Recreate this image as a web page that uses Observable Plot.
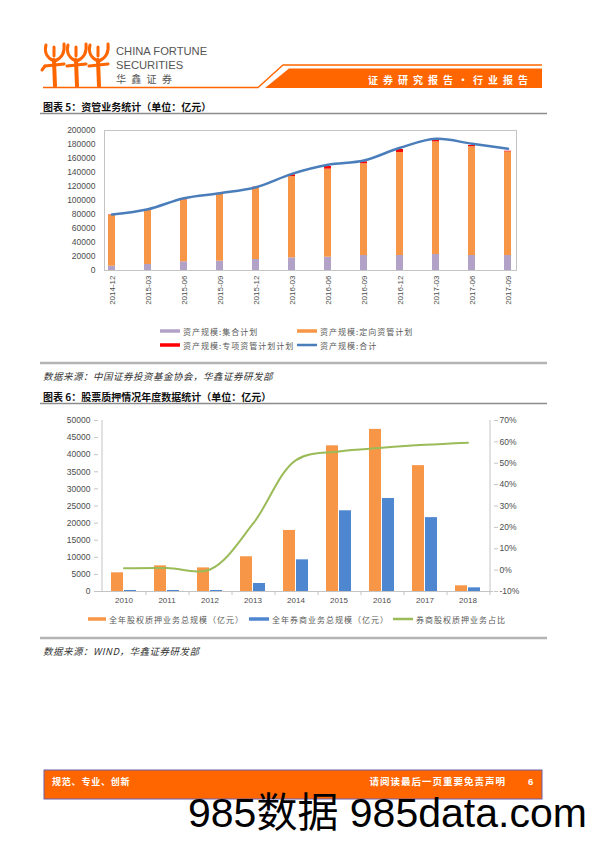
<!DOCTYPE html>
<html>
<head>
<meta charset="utf-8">
<script src="https://cdn.jsdelivr.net/npm/d3@7"></script>
<script src="https://cdn.jsdelivr.net/npm/@observablehq/plot@0.6"></script>
<style>
  html, body { margin: 0; padding: 0; background: #fff; }
  #page { position: relative; width: 596px; height: 842px; overflow: hidden; background: #fff; }
  .abs { position: absolute; left: 0; }
  .abs svg { display: block; }
  #deco { position: absolute; left: 0; top: 0; }
</style>
</head>
<body>
<div id="page">
  <svg id="deco" width="596" height="842"></svg>
  <div id="c1" class="abs" style="top:120px"></div>
  <div id="c2" class="abs" style="top:405px"></div>
  <div id="c2b" class="abs" style="top:405px"></div>
</div>
<script>
// ---------- Chart 1 data: 资管业务统计（单位：亿元） ----------
const periods = ["2014-12","2015-03","2015-06","2015-09","2015-12","2016-03","2016-06","2016-09","2016-12","2017-03","2017-06","2017-09"];
const jiheScale = [6100, 8600, 12400, 13300, 15700, 18100, 19000, 21400, 21400, 22900, 21400, 21400];
const dingxiangScale = [73000, 77500, 88800, 95900, 102300, 116100, 125800, 131100, 147200, 160800, 155400, 148000];
const zhuanxiangScale = [500, 600, 700, 800, 1000, 2500, 3800, 2800, 4300, 2000, 1800, 1000];
const totalScale = [80000, 87600, 103300, 110400, 119000, 138100, 151000, 157100, 175300, 188100, 181000, 173800];
const series1 = ["资产规模:集合计划", "资产规模:定向资管计划", "资产规模:专项资管计划计划", "资产规模:合计"];
const yTicks1 = [0, 20000, 40000, 60000, 80000, 100000, 120000, 140000, 160000, 180000, 200000];

// ---------- Chart 2 data: 股票质押情况年度数据统计（单位：亿元） ----------
const years = ["2010","2011","2012","2013","2014","2015","2016","2017","2018"];
const pledgeTotal = [5460, 7500, 6900, 10150, 17850, 42600, 47400, 36800, 1660];
const brokerTotal = [300, 300, 300, 2340, 9260, 23600, 27200, 21600, 1070];
const brokerSharePct = [0.9, 1.0, 0.3, 21.7, 51.5, 55.5, 57.2, 58.6, 59.6];
const series2 = ["全年股权质押业务总规模（亿元）", "全年券商业务总规模（亿元）", "券商股权质押业务占比"];
const yTicks2 = [0, 5000, 10000, 15000, 20000, 25000, 30000, 35000, 40000, 45000, 50000];
const pctTicks = [-10, 0, 10, 20, 30, 40, 50, 60, 70];

const orange = "#f79646", purple = "#b3a2c7", red = "#ff0000", blueLine = "#4a7ebb";
const blueBar = "#4f86d0", green = "#9bbb59", axisGray = "#c4c4c4", labelColor = "#4d4d4d";
const brand = "#ff6600";

// ---------- Chart 1 ----------
const stackRows = [];
periods.forEach((p, i) => {
  stackRows.push({period: p, series: series1[0], value: jiheScale[i]});
  stackRows.push({period: p, series: series1[1], value: dingxiangScale[i]});
  stackRows.push({period: p, series: series1[2], value: zhuanxiangScale[i]});
});
const totalRows = periods.map((p, i) => ({period: p, value: totalScale[i]}));

const chart1 = Plot.plot({
  width: 596, height: 200,
  marginLeft: 104, marginRight: 80, marginTop: 10, marginBottom: 50,
  style: {fontFamily: "'Liberation Sans', Arial, sans-serif", fontSize: "8.5px", color: labelColor, background: "transparent"},
  x: {domain: periods, type: "band", paddingInner: 0.8, paddingOuter: 0.066, label: null},
  y: {domain: [0, 200000], label: null},
  color: {domain: series1.slice(0, 3), range: [purple, orange, red]},
  marks: [
    Plot.frame({stroke: axisGray}),
    Plot.barY(stackRows, {x: "period", y: "value", fill: "series", order: series1.slice(0, 3)}),
    Plot.line(totalRows, {x: "period", y: "value", stroke: blueLine, strokeWidth: 2.5, curve: "catmull-rom"}),
    Plot.axisY({ticks: yTicks1, tickFormat: "d", tickSize: 0, tickPadding: 9}),
    Plot.axisX({tickRotate: -90, tickSize: 0, tickPadding: 5, fontSize: 8})
  ]
});
document.getElementById("c1").appendChild(chart1);

// ---------- Chart 2 (bars + left axis) ----------
const pledgeRows = years.map((y, i) => ({year: y, value: pledgeTotal[i]}));
const brokerRows = years.map((y, i) => ({year: y, value: brokerTotal[i]}));
const shareRows = years.map((y, i) => ({year: y, pct: brokerSharePct[i]}));

const common2 = {
  width: 596, height: 210,
  marginLeft: 98, marginRight: 103, marginTop: 15, marginBottom: 24,
  style: {fontFamily: "'Liberation Sans', Arial, sans-serif", fontSize: "8.5px", color: labelColor, background: "transparent"}
};

const chart2 = Plot.plot({
  ...common2,
  x: {domain: years, type: "band", padding: 0, label: null},
  y: {domain: [0, 50000], label: null},
  marks: [
    Plot.barY(pledgeRows, {x: "year", y: "value", fill: orange, insetLeft: 9, insetRight: 22}),
    Plot.barY(brokerRows, {x: "year", y: "value", fill: blueBar, insetLeft: 22, insetRight: 9}),
    Plot.ruleY([0], {stroke: axisGray}),
    Plot.ruleX(years, {x: d => d, dx: 22, y1: 0, y2: -1200, stroke: axisGray}),
    Plot.ruleX([years[0]], {x: d => d, dx: -22, y1: 0, y2: 50000, stroke: axisGray}),
    Plot.axisY({ticks: yTicks2, tickFormat: "d", tickSize: 4, tickPadding: 4, stroke: axisGray}),
    Plot.axisX({tickSize: 0, tickPadding: 6, fontSize: 8})
  ]
});
document.getElementById("c2").appendChild(chart2);

// ---------- Chart 2 overlay (share line + right axis) ----------
const chart2b = Plot.plot({
  ...common2,
  x: {domain: years, type: "band", padding: 0, axis: null},
  y: {domain: [-10, 70], label: null},
  marks: [
    Plot.line(shareRows, {x: "year", y: "pct", stroke: green, strokeWidth: 2, curve: "catmull-rom"}),
    Plot.ruleX([years[years.length - 1]], {x: d => d, dx: 22, y1: -10, y2: 70, stroke: axisGray}),
    Plot.axisY({anchor: "right", ticks: pctTicks, tickFormat: d => d + "%", tickSize: 4, tickPadding: 2, stroke: axisGray})
  ]
});
document.getElementById("c2b").appendChild(chart2b);

// ---------- Page decoration, titles, legends, captions ----------
const svg = d3.select("#deco");
const cjk = "'Noto Sans CJK SC', 'Noto Sans', sans-serif";

// logo figures
const logo = svg.append("g").attr("fill", "none").attr("stroke", brand).attr("stroke-linecap", "round");
[55, 77, 99].forEach((cx, k) => {
  logo.append("path").attr("d", `M${cx},86 L${cx - 1},60`).attr("stroke-width", 4);
  logo.append("path").attr("d", `M${cx - 10},66 L${cx + 9},64`).attr("stroke-width", 3);
  logo.append("path").attr("d", `M${cx - 1},61 C${cx - 8},58 ${cx - 11},52 ${cx - 9},45`).attr("stroke-width", 3);
  logo.append("path").attr("d", `M${cx},61 C${cx + 7},58 ${cx + 10},52 ${cx + 9},44`).attr("stroke-width", 3);
  logo.append("path").attr("d", `M${cx - 1},56 L${cx - 1},47`).attr("stroke-width", 3);
  if (k === 0) logo.append("path").attr("d", `M${cx - 10},66 L${cx - 13},70`).attr("stroke-width", 3);
});
svg.append("text").attr("x", 116).attr("y", 55).attr("font-family", "'Liberation Sans', Arial, sans-serif")
  .attr("font-size", 11.2).attr("fill", "#555").text("CHINA FORTUNE");
svg.append("text").attr("x", 116).attr("y", 68.5).attr("font-family", "'Liberation Sans', Arial, sans-serif")
  .attr("font-size", 11.2).attr("fill", "#555").text("SECURITIES");
svg.append("text").attr("x", 116).attr("y", 78).attr("dominant-baseline", "central").attr("font-family", cjk)
  .attr("font-size", 10).attr("letter-spacing", 5.3).attr("fill", "#555").text("华鑫证券");

// header band
svg.append("polyline").attr("points", "43,87.5 258,87.5 283,65 542,65").attr("fill", "none").attr("stroke", brand).attr("stroke-width", 1.3);
svg.append("polygon").attr("points", "265,88 289,68.5 542,68.5 542,88").attr("fill", brand);
svg.append("text").attr("x", 533).attr("y", 79).attr("text-anchor", "end").attr("dominant-baseline", "central")
  .attr("font-family", cjk).attr("font-size", 10).attr("font-weight", "bold").attr("letter-spacing", 5)
  .attr("fill", "#fff").text("证券研究报告•行业报告");

// titles and rules
function title(y, txt) {
  svg.append("text").attr("x", 43).attr("y", y).attr("dominant-baseline", "central").attr("font-family", cjk)
    .attr("font-size", 10).attr("font-weight", "bold").attr("fill", "#111").text(txt);
}
function source(y, txt) {
  svg.append("text").attr("x", 43).attr("y", y).attr("dominant-baseline", "central").attr("font-family", cjk)
    .attr("font-size", 9.5).attr("font-style", "italic").attr("letter-spacing", 0.5).attr("fill", "#333").text(txt);
}
function hline(y, w, c) {
  svg.append("line").attr("x1", 40).attr("x2", 547).attr("y1", y).attr("y2", y).attr("stroke", c).attr("stroke-width", w);
}
title(106, "图表 5：资管业务统计（单位：亿元）");
hline(113.5, 1.5, "#8c8c8c");
hline(363, 2.5, "#b4b4b4");
source(376, "数据来源：中国证券投资基金协会，华鑫证券研发部");
title(396, "图表 6：股票质押情况年度数据统计（单位：亿元）");
hline(403.5, 1.5, "#8c8c8c");
hline(638, 2.5, "#b4b4b4");
source(651, "数据来源：WIND，华鑫证券研发部");

// legends
function legendItem(x, y, color, h, label, w) {
  svg.append("rect").attr("x", x).attr("y", y - h / 2).attr("width", w).attr("height", h).attr("fill", color);
  svg.append("text").attr("x", x + w + 3).attr("y", y).attr("dominant-baseline", "central").attr("font-family", cjk)
    .attr("font-size", 8).attr("letter-spacing", 1).attr("fill", "#595959").text(label);
}
legendItem(160, 331, purple, 3.5, series1[0], 20);
legendItem(297, 331, orange, 3.5, series1[1], 20);
legendItem(160, 345, red, 3.5, series1[2], 20);
legendItem(297, 345, blueLine, 2.5, series1[3], 20);

legendItem(88, 619, orange, 3.5, series2[0], 18);
legendItem(249, 619, blueBar, 3.5, series2[1], 20);
legendItem(393, 619, green, 2.5, series2[2], 20);

// footer
svg.append("rect").attr("x", 44).attr("y", 770).attr("width", 498).attr("height", 29).attr("fill", brand)
  .attr("stroke", "#6b5fa8").attr("stroke-width", 1);
svg.append("text").attr("x", 52).attr("y", 781).attr("dominant-baseline", "central").attr("font-family", cjk)
  .attr("font-size", 9).attr("font-weight", "bold").attr("letter-spacing", 0.8).attr("fill", "#fff").text("规范、专业、创新");
svg.append("text").attr("x", 506).attr("y", 781).attr("text-anchor", "end").attr("dominant-baseline", "central").attr("font-family", cjk)
  .attr("font-size", 9.5).attr("font-weight", "bold").attr("letter-spacing", 1).attr("fill", "#fff").text("请阅读最后一页重要免责声明");
svg.append("text").attr("x", 528).attr("y", 781).attr("dominant-baseline", "central").attr("font-family", "'Liberation Sans', Arial, sans-serif")
  .attr("font-size", 9.5).attr("font-weight", "bold").attr("fill", "#fff").text("6");

// watermark
svg.append("text").attr("x", 188).attr("y", 827).attr("font-family", "'Liberation Sans', Arial, 'Noto Sans CJK SC', sans-serif")
  .attr("font-size", 41).attr("fill", "#000").text("985数据 985data.com");
</script>
</body>
</html>
